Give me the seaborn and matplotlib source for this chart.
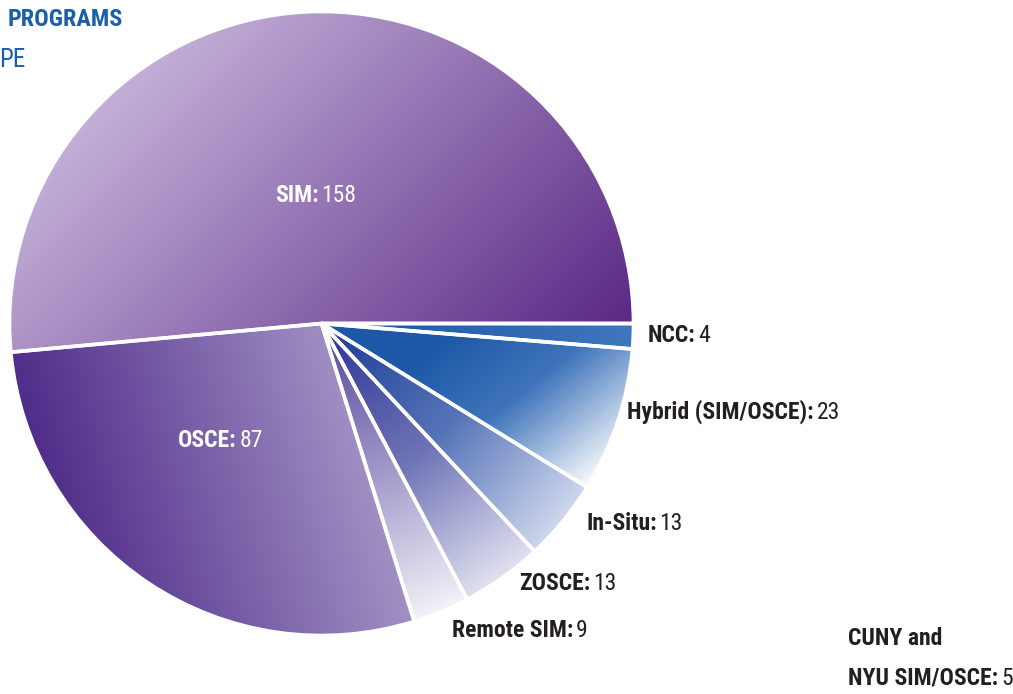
import numpy as np
import matplotlib
matplotlib.use("Agg")
import matplotlib.pyplot as plt
import seaborn as sns
from matplotlib.colors import to_rgb
from matplotlib import font_manager as fm

# ---- data ----
categories = ["NCC", "Hybrid (SIM/OSCE)", "In-Situ", "ZOSCE", "Remote SIM", "OSCE", "SIM"]
counts = [4, 23, 13, 13, 9, 87, 158]
extra_label = ["CUNY and", "NYU SIM/OSCE"]
extra_count = 5
title_text = "PROGRAMS"
subtitle_text = "PE"

sns.set_theme(style="white")

available = {f.name for f in fm.fontManager.ttflist}
fam = None
for pref in ['Roboto Condensed', 'Liberation Sans Narrow', 'Open Sans Condensed', 'DejaVu Sans Condensed']:
    if pref in available:
        fam = pref
        break
plt.rcParams['font.family'] = [fam, 'DejaVu Sans'] if fam else ['DejaVu Sans']

W, H = 1013, 694
fig = plt.figure(figsize=(W / 100, H / 100), dpi=100)
ax = fig.add_axes([0, 0, 1, 1])


def Y(py):
    return H - py


cx, cy, R = 321.5, Y(323.5), 312

wedges, _ = ax.pie(counts, startangle=0, counterclock=False, center=(cx, cy), radius=R,
                   wedgeprops=dict(facecolor='none', edgecolor='white', linewidth=2.6),
                   frame=False)
for w in wedges:
    w.set_zorder(3)

ax.set_xlim(0, W)
ax.set_ylim(0, H)
ax.set_aspect('equal')
ax.axis('off')


def gradient_fill(wedge, stops, p0, p1):
    x0, x1 = cx - R - 6, cx + R + 6
    y0, y1 = cy - R - 6, cy + R + 6
    n = 500
    xs = np.linspace(x0, x1, n)
    ys = np.linspace(y0, y1, n)
    X, Yg = np.meshgrid(xs, ys)
    d = np.array(p1, float) - np.array(p0, float)
    t = ((X - p0[0]) * d[0] + (Yg - p0[1]) * d[1]) / (d @ d)
    t = np.clip(t, 0, 1)
    pos = [s[0] for s in stops]
    cols = np.array([to_rgb(s[1]) for s in stops])
    img = np.stack([np.interp(t, pos, cols[:, k]) for k in range(3)], axis=-1)
    im = ax.imshow(img, extent=[x0, x1, y0, y1], origin='lower', zorder=1,
                   interpolation='bilinear')
    im.set_clip_path(wedge)


def bisector_pts(wedge, r0=0.05, r1=1.0):
    a = np.deg2rad((wedge.theta1 + wedge.theta2) / 2)
    d = np.array([np.cos(a), np.sin(a)])
    return (cx + r0 * R * d[0], cy + r0 * R * d[1]), (cx + r1 * R * d[0], cy + r1 * R * d[1])


styles = {
    "NCC": ([(0, "#1a56a5"), (1, "#3f77bc")], None),
    "Hybrid (SIM/OSCE)": ([(0, "#1d58a7"), (0.45, "#3f74bb"), (1, "#f7f9fc")], ((470, 318), (597, 476))),
    "In-Situ": ([(0, "#203f98"), (0.5, "#5675b8"), (1, "#d0d8ee")], None),
    "ZOSCE": ([(0, "#33389a"), (0.5, "#6f74b6"), (1, "#e2e2f1")], None),
    "Remote SIM": ([(0, "#5b4aa0"), (0.5, "#a49bcb"), (1, "#f4f2f9")], None),
    "OSCE": ([(0, "#4f2d8a"), (1, "#b6aad2")], ((40, 470), (425, 360))),
    "SIM": ([(0, "#cdbde0"), (1, "#5a2985")], ((30, 100), (440, 510))),
}

for w, cat in zip(wedges, categories):
    stops, pts = styles[cat]
    if pts is None:
        p0, p1 = bisector_pts(w)
    else:
        p0 = (pts[0][0], Y(pts[0][1]))
        p1 = (pts[1][0], Y(pts[1][1]))
    gradient_fill(w, stops, p0, p1)

# ---- labels ----
FS = 17 if fam else 14
label_pos = {
    "NCC": (648, 342, '#231f20'),
    "Hybrid (SIM/OSCE)": (627, 419, '#231f20'),
    "In-Situ": (586, 530, '#231f20'),
    "ZOSCE": (519, 590, '#231f20'),
    "Remote SIM": (452, 637, '#231f20'),
    "OSCE": (178, 447, 'white'),
    "SIM": (275, 202, 'white'),
}


def two_part(x, y, bold, regular, color):
    t = ax.text(x, Y(y), bold + ":", fontsize=FS, fontweight='bold', color=color,
                ha='left', va='baseline', zorder=5)
    ax.annotate(regular, xy=(1, Y(y)), xycoords=(t, 'data'), xytext=(2, 0),
                textcoords='offset points', fontsize=FS, color=color,
                ha='left', va='baseline', zorder=5)


for cat, val in zip(categories, counts):
    x, y, col = label_pos[cat]
    two_part(x, y, cat, str(val), col)

ax.text(848, Y(645), extra_label[0], fontsize=FS, fontweight='bold', color='#231f20',
        ha='left', va='baseline', zorder=5)
two_part(848, 685, extra_label[1], str(extra_count), '#231f20')

ax.text(8, Y(26), title_text, fontsize=FS + 0.5, fontweight='bold', color='#1b5fab',
        ha='left', va='baseline')
ax.text(-1, Y(67), subtitle_text, fontsize=FS + 1, color='#1b5fab',
        ha='left', va='baseline')

fig.savefig("out.png", dpi=100)
